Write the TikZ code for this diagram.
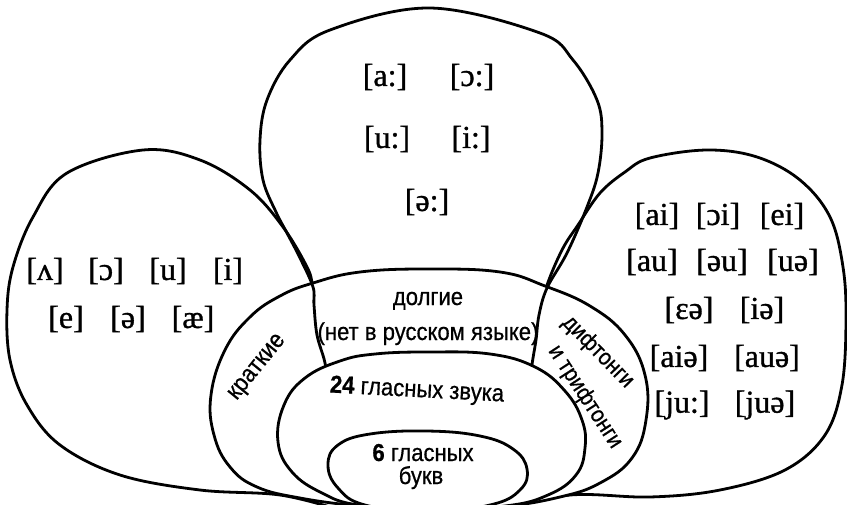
\documentclass[tikz,border=0pt]{standalone}
\usepackage{fontspec}
\setmainfont{Liberation Serif}
\newfontfamily\ipafont[FakeBold=1]{Liberation Serif}
\newfontfamily\condfont[FakeStretch=0.9,FakeBold=0.6]{Liberation Sans}
\begin{document}
\begin{tikzpicture}[x=1pt,y=-1pt, line width=2.8pt, line join=round, line cap=round,
  ipa/.style={font=\ipafont\fontsize{32}{36}\selectfont, inner sep=0pt},
  lbl/.style={font=\condfont\fontsize{24.5}{28}\selectfont, inner sep=0pt, align=center},
  slbl/.style={font=\condfont\fontsize{23}{26}\selectfont, inner sep=0pt},
  blob/.style={draw=black, fill=white}]
\useasboundingbox (0,0) rectangle (847,504);
\clip (0,0) rectangle (847,504);
% left petal
\draw plot[smooth, tension=0.6] coordinates {(322,330) (313,287) (307,267) (283,227) (250,190) (200,160) (143,150) (67,173) (33,217) (13,267) (7,310) (10,360) (27,405) (60,445) (120,475) (200,490) (280,495) (340,510)};
% right petal
\draw plot[smooth, tension=0.6] coordinates {(535,330) (546,288) (562,250) (578,225) (600,193) (625,172) (650,158) (707,150) (757,157) (800,180) (830,217) (843,267) (846,320) (842,385) (825,435) (785,470) (720,490) (650,497) (570,495) (500,510)};
% big ellipse
\filldraw[blob] plot[smooth cycle, tension=0.7] coordinates {(428,269) (500,272) (545,286) (590,306) (625,335) (645,375) (646,420) (632,458) (600,483) (560,497) (500,507) (428,510) (360,506) (300,498) (257,487) (230,467) (214,435) (211,395) (225,350) (250,317) (280,296) (313,283) (360,272)};
% top petal
\draw plot[smooth, tension=0.6] coordinates {(328,390) (325,363) (317,335) (314,305) (313,287) (300,258) (287,233) (276,212) (263,180) (260,140) (267,100) (290,60) (330,30) (430,8) (540,33) (573,60) (597,100) (602,133) (598,173) (587,207) (567,253) (547,288) (539,315) (536,340) (532,365) (530,390)};
% middle ellipse
\filldraw[blob] plot[smooth cycle, tension=0.7] coordinates {(428,352) (490,354) (535,367) (565,391) (582,420) (585,448) (576,475) (548,495) (505,506) (428,510) (358,505) (322,493) (292,472) (278,442) (284,405) (305,378) (340,361) (375,354)};
% inner ellipse
\filldraw[blob] plot[smooth cycle, tension=0.7] coordinates {(427,431) (480,436) (513,449) (527,469) (520,490) (490,505) (427,512) (365,505) (338,488) (328,465) (338,445) (370,434)};
% top petal sounds
\node[ipa] (aa) at (385,77) {[a:]};
\node[ipa] (oo) at (472,77) {[ɔ:]};
\node[ipa] (uu) at (387,139) {[u:]};
\node[ipa] (ii) at (471,139) {[i:]};
\node[ipa] (ee) at (427,202) {[ə:]};
% left petal sounds
\node[ipa] (s1) at (45,271) {[ʌ]};
\node[ipa] (s2) at (106,271) {[ɔ]};
\node[ipa] (s3) at (168,271) {[u]};
\node[ipa] (s4) at (228,271) {[i]};
\node[ipa] (s5) at (66,319) {[e]};
\node[ipa] (s6) at (128,319) {[ə]};
\node[ipa] (s7) at (193,319) {[æ]};
% right petal sounds
\node[ipa] (d1) at (657,216) {[ai]};
\node[ipa] (d2) at (718,216) {[ɔi]};
\node[ipa] (d3) at (782,216) {[ei]};
\node[ipa] (d4) at (652,262) {[au]};
\node[ipa] (d5) at (722,262) {[əu]};
\node[ipa] (d6) at (793,262) {[uə]};
\node[ipa] (d7) at (689,310) {[ɛə]};
\node[ipa] (d8) at (762,310) {[iə]};
\node[ipa] (d9) at (679,358) {[aiə]};
\node[ipa] (d10) at (767,358) {[auə]};
\node[ipa] (d11) at (682,405) {[ju:]};
\node[ipa] (d12) at (765,405) {[juə]};
% labels
\node[lbl, anchor=base] (dolg1) at (428,305) {долгие};
\node[lbl, anchor=base] (dolg2) at (428,340) {(нет в русском языке)};
\node[lbl, rotate=51] (krat) at (258,368) {краткие};
\node[slbl, rotate=-45.5] (dift) at (598,352) {дифтонги};
\node[slbl, rotate=-57] (trift) at (585,397) {и трифтонги};
\node[lbl, rotate=-3] (zv) at (417,391) {\textbf{24} гласных звука};
\node[lbl, anchor=base] (bk1) at (423,461) {\textbf{6} гласных};
\node[lbl, anchor=base] (bk2) at (421,484) {букв};
\end{tikzpicture}
\end{document}
